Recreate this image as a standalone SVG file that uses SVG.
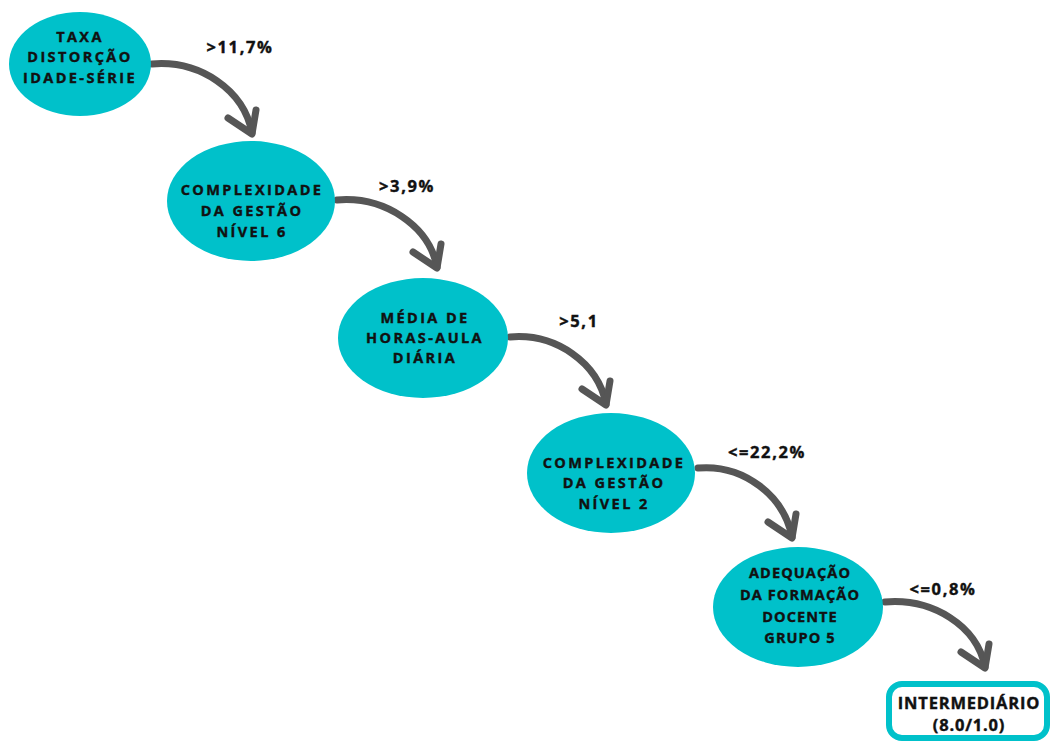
<svg xmlns="http://www.w3.org/2000/svg" width="1052" height="743" viewBox="0 0 1052 743">
<style>
.node{fill:#00C1CA;}
.nt{font-family:"Open Sans","Liberation Sans",sans-serif;font-weight:bold;font-size:14.5px;letter-spacing:2.4px;fill:#111;text-anchor:middle;stroke:#111;stroke-width:0.4px;}
.lbl{font-family:"Open Sans","Liberation Sans",sans-serif;font-weight:bold;font-size:16.5px;letter-spacing:1.6px;fill:#111;text-anchor:middle;stroke:#111;stroke-width:0.4px;}
.arr{fill:none;stroke:#565656;stroke-width:7;stroke-linecap:round;stroke-linejoin:round;}
.res{fill:#fff;stroke:#00C1CA;stroke-width:6;}
.rt{font-family:"Open Sans","Liberation Sans",sans-serif;font-weight:bold;font-size:16.5px;letter-spacing:0.8px;fill:#111;text-anchor:middle;stroke:#111;stroke-width:0.4px;}
</style>
<rect width="1052" height="743" fill="#fff"/>
<g id="connectors">
  <g id="c1"><path class="arr" d="M152,64 C200,60 244,90 252,133"/><path class="arr" d="M228,118 L252,134 L256,110"/></g>
  <g id="c2"><path class="arr" d="M337,200 C385,196 429,226 437,267"/><path class="arr" d="M413,252 L437,268 L441,244"/></g>
  <g id="c3"><path class="arr" d="M510,337 C556,333 598,363 606,404"/><path class="arr" d="M582,389 L606,405 L610,381"/></g>
  <g id="c4"><path class="arr" d="M698,468 C744,464 784,496 792,537"/><path class="arr" d="M768,522 L792,538 L796,514"/></g>
  <g id="c5"><path class="arr" d="M885,602 C933,598 977,626 985,667"/><path class="arr" d="M961,652 L985,668 L989,644"/></g>
  <text class="lbl" x="240" y="53">&gt;11,7%</text>
  <text class="lbl" x="407" y="192">&gt;3,9%</text>
  <text class="lbl" x="579" y="327">&gt;5,1</text>
  <text class="lbl" x="767" y="458">&lt;=22,2%</text>
  <text class="lbl" x="943" y="595">&lt;=0,8%</text>
</g>
<g id="n1">
  <ellipse class="node" cx="80" cy="64" rx="71" ry="52"/>
  <text class="nt" x="80" y="42">TAXA</text>
  <text class="nt" x="80" y="62">DISTORÇÃO</text>
  <text class="nt" x="80" y="83">IDADE-SÉRIE</text>
</g>
<g id="n2">
  <ellipse class="node" cx="251" cy="201" rx="84" ry="60"/>
  <text class="nt" x="252" y="195">COMPLEXIDADE</text>
  <text class="nt" x="252" y="216">DA GESTÃO</text>
  <text class="nt" x="252" y="237">NÍVEL 6</text>
</g>
<g id="n3">
  <ellipse class="node" cx="423" cy="338" rx="85" ry="60"/>
  <text class="nt" x="425" y="323">MÉDIA DE</text>
  <text class="nt" x="425" y="343">HORAS-AULA</text>
  <text class="nt" x="425" y="363">DIÁRIA</text>
</g>
<g id="n4">
  <ellipse class="node" cx="611" cy="473" rx="84" ry="60"/>
  <text class="nt" x="614" y="468">COMPLEXIDADE</text>
  <text class="nt" x="614" y="488">DA GESTÃO</text>
  <text class="nt" x="614" y="509">NÍVEL 2</text>
</g>
<g id="n5">
  <ellipse class="node" cx="798" cy="607" rx="85" ry="60"/>
  <text class="nt" x="800" y="578" style="letter-spacing:1.1px">ADEQUAÇÃO</text>
  <text class="nt" x="800" y="600" style="letter-spacing:1.1px">DA FORMAÇÃO</text>
  <text class="nt" x="800" y="622" style="letter-spacing:1.1px">DOCENTE</text>
  <text class="nt" x="800" y="643" style="letter-spacing:1.1px">GRUPO 5</text>
</g>
<g id="result">
  <rect class="res" x="889" y="684" width="158" height="54" rx="13"/>
  <text class="rt" x="969" y="709">INTERMEDIÁRIO</text>
  <text class="rt" x="969" y="731">(8.0/1.0)</text>
</g>
</svg>
